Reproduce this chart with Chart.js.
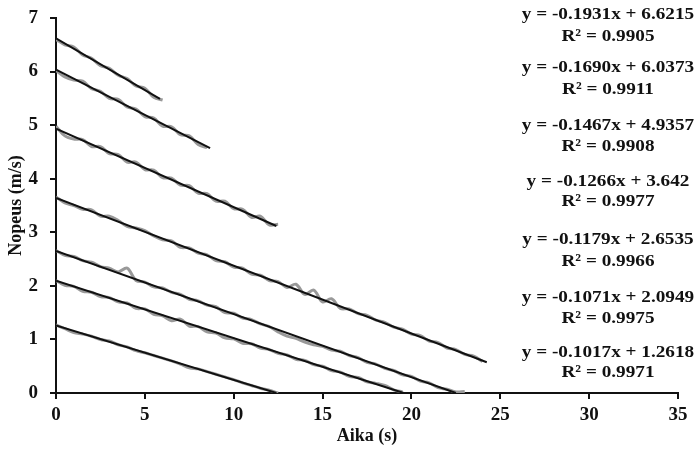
<!DOCTYPE html>
<html>
<head>
<meta charset="utf-8">
<script src="https://cdn.jsdelivr.net/npm/chart.js@4/dist/chart.umd.min.js"></script>
<style>
html,body{margin:0;padding:0;background:#fff;}
#wrap{width:697px;height:455px;}
</style>
</head>
<body>
<div id="wrap"><canvas id="c" width="697" height="455"></canvas></div>
<script>
// sample times (s)
const times = [0,0.5,1,1.5,2,2.5,3,3.5,4,4.5,5,5.5,6,6.5,7,7.5,8,8.5,9,9.5,10,10.5,11,11.5,12,12.5,13,13.5,14,14.5,15,15.5,16,16.5,17,17.5,18,18.5,19,19.5,20,20.5,21,21.5,22,22.5,23,23.5,24];

// measured speeds (m/s), one array per run
const run1 = [6.60,6.50,6.46,6.31,6.25,6.11,6.06,5.93,5.87,5.73,5.69,5.52,5.47];
const run2 = [6.02,5.90,5.84,5.82,5.68,5.63,5.50,5.48,5.34,5.30,5.16,5.13,4.98,4.97,4.82,4.80,4.64,4.58];
const run3 = [4.98,4.80,4.74,4.73,4.60,4.60,4.47,4.45,4.31,4.31,4.17,4.16,4.02,4.01,3.88,3.87,3.73,3.72,3.58,3.58,3.44,3.43,3.28,3.30,3.14,3.15];
const run4 = [3.66,3.55,3.50,3.43,3.42,3.30,3.30,3.22,3.11,3.08,3.03,2.93,2.86,2.84,2.72,2.71,2.61,2.58,2.47,2.45,2.35,2.33,2.22,2.20,2.10,2.08,1.97,2.03,1.84,1.92,1.70,1.76,1.58,1.57,1.48,1.45,1.36,1.32,1.23,1.19,1.10,1.07,0.97,0.94,0.84,0.81,0.72,0.69,0.59];
const run5 = [2.66,2.57,2.55,2.47,2.44,2.36,2.33,2.26,2.33,2.10,2.07,1.98,1.96,1.88,1.84,1.75,1.72,1.64,1.61,1.50,1.49,1.40,1.37,1.29,1.24,1.14,1.06,1.02,0.95,0.90,0.87,0.80,0.78,0.70,0.66,0.57,0.54,0.46,0.42,0.34,0.31,0.22,0.19,0.10,0.07,0.02,0.03];
const run6 = [2.10,2.01,1.99,1.90,1.88,1.80,1.78,1.70,1.68,1.58,1.57,1.47,1.44,1.35,1.38,1.25,1.24,1.14,1.12,1.03,1.01,0.93,0.92,0.84,0.81,0.74,0.71,0.63,0.61,0.53,0.50,0.42,0.39,0.31,0.29,0.21,0.18,0.14,0.06,0.02];
const run7 = [1.27,1.20,1.13,1.10,1.06,1.00,0.97,0.90,0.86,0.79,0.75,0.70,0.65,0.60,0.54,0.47,0.45,0.40,0.35,0.30,0.25,0.19,0.14,0.09,0.05,0.00];

// linear trend lines (as printed on chart)
const slopes     = [-0.1931,-0.1690,-0.1467,-0.1266,-0.1179,-0.1071,-0.1017];
const intercepts = [6.6215, 6.0373, 4.9357, 3.642, 2.6535, 2.0949, 1.2618];
const trendEnd   = [5.85, 8.67, 12.4, 24.24, 22.5, 19.56, 12.4];
const eqLabels = [
  ["y = -0.1931x + 6.6215","R² = 0.9905"],
  ["y = -0.1690x + 6.0373","R² = 0.9911"],
  ["y = -0.1467x + 4.9357","R² = 0.9908"],
  ["y = -0.1266x + 3.642","R² = 0.9977"],
  ["y = -0.1179x + 2.6535","R² = 0.9966"],
  ["y = -0.1071x + 2.0949","R² = 0.9975"],
  ["y = -0.1017x + 1.2618","R² = 0.9971"]
];
const xTicks = [0,5,10,15,20,25,30,35];
const yTicks = [0,1,2,3,4,5,6,7];

const runs = [run1,run2,run3,run4,run5,run6,run7];
const datasets = [];
runs.forEach((r,i)=>{
  datasets.push({
    data: r.map((v,j)=>({x:times[j],y:v})),
    showLine:true, borderColor:'#999999', borderWidth:3, pointRadius:0,
    tension:0.35, order:2
  });
});
slopes.forEach((m,i)=>{
  datasets.push({
    data:[{x:0,y:intercepts[i]},{x:trendEnd[i],y:intercepts[i]+m*trendEnd[i]}],
    showLine:true, borderColor:'#111', borderWidth:2, pointRadius:0, order:1
  });
});

const eqPos = [[15,37],[68,90],[126,147],[182,202],[240,262],[298,319],[353,373]];
const eqPlugin = {
  id:'eq',
  afterDraw(chart){
    const ctx = chart.ctx;
    ctx.save();
    ctx.fillStyle = '#111';
    ctx.font = 'bold 17px "Liberation Serif"';
    ctx.textAlign = 'center';
    ctx.textBaseline = 'middle';
    eqLabels.forEach((lab,i)=>{
      lab.forEach((t,k)=>{
        ctx.save();
        ctx.translate(608, eqPos[i][k]);
        ctx.scale(1.13,1);
        ctx.fillText(t,0,0);
        ctx.restore();
      });
    });
    ctx.restore();
  }
};

const serifBold = {family:'"Liberation Serif"', weight:'bold', size:19};
const titleFont = {family:'"Liberation Serif"', weight:'bold', size:18};
new Chart(document.getElementById('c'), {
  type:'scatter',
  data:{datasets},
  plugins:[eqPlugin],
  options:{
    responsive:false, animation:false,
    layout:{padding:{left:0,right:19,top:18,bottom:0}},
    plugins:{legend:{display:false}, tooltip:{enabled:false}},
    scales:{
      x:{
        type:'linear', min:0, max:35,
        afterBuildTicks(s){ s.ticks = xTicks.map(v=>({value:v})); },
        afterFit(s){ s.height = 62; },
        ticks:{color:'#111', font:serifBold, padding:5, maxRotation:0},
        grid:{drawOnChartArea:false, drawTicks:true, tickLength:6, color:'#111', lineWidth:2},
        border:{display:true, color:'#111', width:2},
        title:{display:true, text:'Aika (s)', color:'#111', font:titleFont, padding:{top:0,bottom:8}}
      },
      y:{
        type:'linear', min:0, max:7,
        afterBuildTicks(s){ s.ticks = yTicks.map(v=>({value:v})); },
        afterFit(s){ s.width = 56; s.paddingTop = 0; s.paddingBottom = 0; },
        ticks:{color:'#111', font:serifBold, padding:12},
        grid:{drawOnChartArea:false, drawTicks:true, tickLength:6, color:'#111', lineWidth:2},
        border:{display:true, color:'#111', width:2},
        title:{display:true, text:'Nopeus (m/s)', color:'#111', font:titleFont, padding:{top:6,bottom:0}}
      }
    }
  }
});
</script>
</body>
</html>
